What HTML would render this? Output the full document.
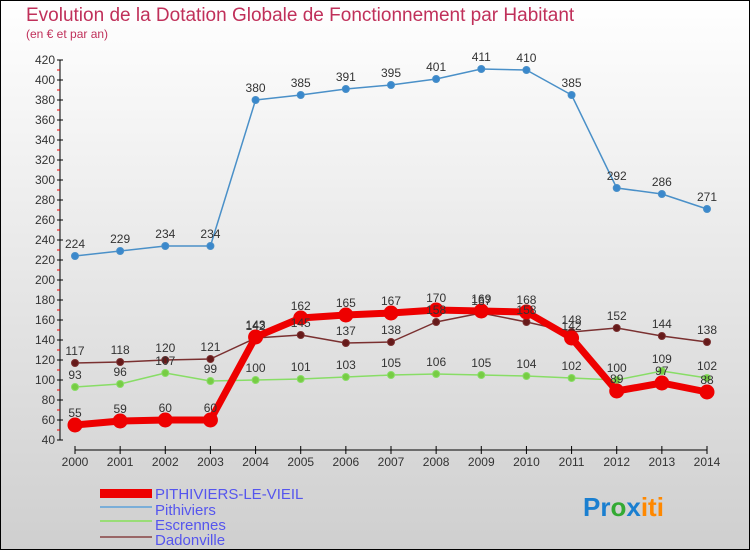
<!DOCTYPE html>
<html><head><meta charset="utf-8"><style>
html,body{margin:0;padding:0}
body{width:750px;height:550px;overflow:hidden;font-family:"Liberation Sans",sans-serif}
svg{display:block}
</style></head><body>
<svg id="chart" width="750" height="550" xmlns="http://www.w3.org/2000/svg">
<defs><linearGradient id="bg" x1="0" y1="0" x2="0" y2="1"><stop offset="0" stop-color="#ffffff"/><stop offset="1" stop-color="#cfcfcf"/></linearGradient></defs>
<rect x="0.5" y="0.5" width="749" height="549" fill="url(#bg)" stroke="#000"/>
<text x="26" y="21" font-size="19" fill="#c0305a">Evolution de la Dotation Globale de Fonctionnement par Habitant</text>
<text x="26" y="38" font-size="12" fill="#c0305a">(en € et par an)</text>
<g id="axes"></g><g id="series"></g><g id="labels"></g>
<g font-size="15" fill="#5555ee">
<rect x="100" y="489" width="52" height="9" fill="#ee0000"/>
<text x="155" y="499">PITHIVIERS-LE-VIEIL</text>
<line x1="100" y1="507" x2="152" y2="507" stroke="#7aaed8" stroke-width="2"/>
<text x="155" y="515">Pithiviers</text>
<line x1="100" y1="521" x2="152" y2="521" stroke="#99dd77" stroke-width="2"/>
<text x="155" y="530">Escrennes</text>
<line x1="100" y1="537" x2="152" y2="537" stroke="#996666" stroke-width="2"/>
<text x="155" y="545">Dadonville</text>
</g>
<text x="583" y="516" font-size="26" font-weight="bold"><tspan fill="#1a7fd0">Pr</tspan><tspan fill="#33aa33">o</tspan><tspan fill="#1a7fd0">x</tspan><tspan fill="#ff8800">iti</tspan></text>
</svg>
<script>
const years=[2000,2001,2002,2003,2004,2005,2006,2007,2008,2009,2010,2011,2012,2013,2014];
const yTicks=[40,60,80,100,120,140,160,180,200,220,240,260,280,300,320,340,360,380,400,420];
const plv=[55,59,60,60,143,162,165,167,170,169,168,142,89,97,88];
const pithiviers=[224,229,234,234,380,385,391,395,401,411,410,385,292,286,271];
const escrennes=[93,96,107,99,100,101,103,105,106,105,104,102,100,109,102];
const dadonville=[117,118,120,121,142,145,137,138,158,167,158,148,152,144,138];
const NS="http://www.w3.org/2000/svg";
const X=i=>75+i*(632/(years.length-1));
const Y=v=>440-(v-40)*(380/380);
function mk(tag,attrs,parent){const e=document.createElementNS(NS,tag);for(const k in attrs)e.setAttribute(k,attrs[k]);parent.appendChild(e);return e;}
const axes=document.getElementById('axes'),ser=document.getElementById('series'),lab=document.getElementById('labels');
let a=mk('line',{x1:60,y1:Y(420),x2:60,y2:Y(40),stroke:'#000','stroke-width':1},axes);


yTicks.forEach((v,i)=>{
 let t=mk('line',{x1:57,y1:Y(v),x2:63,y2:Y(v),stroke:'#000'},axes);
 
 
 if(i<yTicks.length-1){
  let m=mk('line',{x1:57,y1:Y(v+10),x2:60,y2:Y(v+10),stroke:'#e00'},axes);
  
  
 }
 let tx=mk('text',{x:55,y:Y(v)+4,'text-anchor':'end','font-size':12,fill:'#333'},axes);tx.textContent=v;
 
 
});
let xa=mk('line',{x1:X(0),y1:450,x2:X(14),y2:450,stroke:'#000'},axes);


years.forEach((y,i)=>{
 let t=mk('line',{x1:X(i),y1:446,x2:X(i),y2:454,stroke:'#000'},axes);
 
 
 let tx=mk('text',{x:X(i),y:466,'text-anchor':'middle','font-size':12,fill:'#333'},axes);tx.textContent=y;
 
 
});
function draw(data,name,color,w,r,fill){
 const pts=data.map((v,i)=>X(i)+','+Y(v)).join(' ');
 let p=mk('polyline',{points:pts,fill:'none',stroke:color,'stroke-width':w,'stroke-linejoin':'round'},ser);
 
 
 data.forEach((v,i)=>{
  let c=mk('circle',{cx:X(i),cy:Y(v),r:r,fill:fill,stroke:color,'stroke-width':1},ser);
  
  
  let t=mk('text',{x:X(i),y:Y(v)-8,'text-anchor':'middle','font-size':12,fill:'#333'},lab);t.textContent=v;
  
  
 });
}
draw(pithiviers,'pithiviers','#4a90c8',1.5,3.5,'#3a88cc');
draw(escrennes,'escrennes','#88dd66',1.5,3.5,'#77cc44');
draw(dadonville,'dadonville','#7a3030',1.5,3.5,'#661a1a');
draw(plv,'pithiviers-le-vieil','#ee0000',7,7,'#ee0000');
</script>
</body></html>
